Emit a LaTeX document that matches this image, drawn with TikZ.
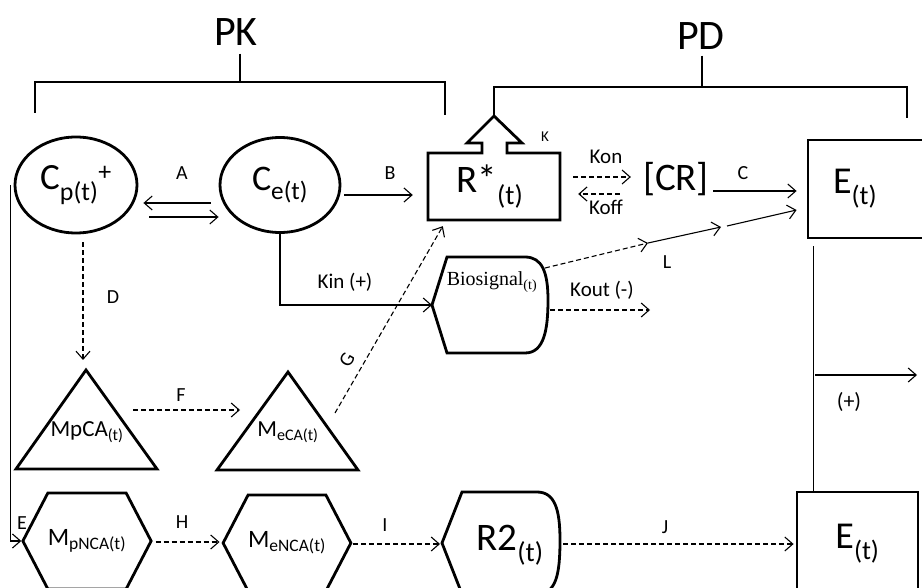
\documentclass[tikz,border=0pt]{standalone}
\usepackage{fontspec}
\setmainfont{Carlito}
\newfontfamily\timesf{Liberation Serif}
\usetikzlibrary{shapes.geometric,shapes.symbols,arrows.meta,calc}
\tikzset{
  shp/.style={line width=2.8pt, line join=miter},
  conn/.style={line width=1.1pt},
  arr/.style={conn, -{Straight Barb[length=8pt,width=14pt,line width=1.1pt]}},
  dsh/.style={dash pattern=on 5pt off 3pt},
  brk/.style={line width=1.4pt},
  flbl/.style={font=\fontsize{20}{24}\selectfont, inner sep=0pt},
  fk/.style={font=\fontsize{21}{25}\selectfont, inner sep=0pt},
  fbig/.style={font=\fontsize{39}{46}\selectfont, inner sep=0pt},
  fpk/.style={font=\fontsize{42}{50}\selectfont, inner sep=0pt},
  fmid/.style={font=\fontsize{23}{28}\selectfont, inner sep=0pt},
  fhex/.style={font=\fontsize{25}{30}\selectfont, inner sep=0pt},
  hexa/.style={shp, draw, signal, signal to=west and east, signal pointer angle=125,
               minimum width=119pt, minimum height=96pt},
}
\begin{document}
\begin{tikzpicture}[x=1pt,y=-1pt]
\clip (0,0) rectangle (922,588);
\fill[white] (0,0) rectangle (922,588);

% headers and brackets
\node[fpk] (PK) at (236,32) {PK};
\node[fpk] (PD) at (701,36) {PD};
\coordinate (pkm) at (240,82);
\coordinate (pdm) at (702,87);
\draw[brk] (35,113) -- (35,82) -- (445,82) -- (445,115);
\draw[brk, shorten <=8pt] (PK.south -| pkm) -- (pkm);

% PK compartments
\node[shp, draw, ellipse, minimum width=122pt, minimum height=96pt, fbig,
      font=\fontsize{37}{44}\selectfont] (Cp) at (76,185) {C\textsubscript{p(t)}\textsuperscript{+}};
\node[shp, draw, ellipse, minimum width=120pt, minimum height=95pt, fbig,
      font=\fontsize{36}{43}\selectfont] (Ce) at (280,185) {C\textsubscript{e(t)}};

% receptor box with arrow
\draw[shp] (428,153) -- (482,153) -- (482,143) -- (467,143) -- (494,116) -- (522,143)
  -- (507,143) -- (507,153) -- (560,153) -- (560,220) -- (428,220) -- cycle;
\node[fbig, minimum width=132pt, minimum height=67pt] (R) at (490,186.5) {R*\textsubscript{(t)}};
\coordinate (Rtip) at (494,116);
\draw[brk] (Rtip) |- (907,87) -- (907,118);
\draw[brk, shorten <=6pt] (PD.south -| pdm) -- (pdm);
\node[font=\fontsize{15}{18}\selectfont, inner sep=0pt] (lK) at (545,137) {K};

% complex and effect
\node[fbig] (CR) at (676,179) {[CR]};
\node[shp, draw, rectangle, fbig, font=\fontsize{38}{45}\selectfont, minimum width=127pt, minimum height=98pt, text width=77pt,
      inner xsep=25pt, align=left] (E1) at (871.5,189) {E\textsubscript{(t)}};
\node[shp, draw, rectangle, fbig, font=\fontsize{38}{45}\selectfont, minimum width=121pt, minimum height=104pt] (E2) at (857.5,544) {E\textsubscript{(t)}};

% Biosignal
\draw[shp] (432,305) -- (447,257) -- (525,257) .. controls (542,257) and (548,272) .. (548,300)
  .. controls (548,330) and (544,353) .. (525,353) -- (447,353) -- cycle;
\coordinate (biotip) at (432,305);
\coordinate (bioTR) at (545,268);
\coordinate (bioR) at (550,310);
\node[font=\timesf\fontsize{20}{24}\selectfont, inner sep=0pt] (biotext) at (492,282) {Biosignal\textsubscript{(t)}};

% R2
\draw[shp] (442,543) -- (462,492) -- (537,492) .. controls (555,492) and (560,510) .. (560,540)
  .. controls (560,575) and (556,594) .. (537,594) -- (462,594) -- cycle;
\coordinate (r2tip) at (442,543);
\coordinate (r2R) at (563,544);
\node[fbig] (r2text) at (510,545) {R2\textsubscript{(t)}};

% metabolites (triangles)
\draw[shp] (86,370) -- (157,469) -- (16,469) -- cycle;
\draw[shp] (288,372) -- (358,470) -- (217,470) -- cycle;
\coordinate (mpcaTop) at (86,370);
\coordinate (mecaTop) at (288,372);
\node[fmid] (mpca) at (87,432) {MpCA\textsubscript{(t)}};
\node[fmid] (meca) at (288,432) {M\textsubscript{eCA(t)}};

% metabolites (hexagons)
\node[hexa, fhex] (mpnca) at (87,541) {M\textsubscript{pNCA(t)}};
\node[hexa, fhex] (menca) at (287,543) {M\textsubscript{eNCA(t)}};

% connectors
\draw[arr] ($(Ce.west)+(-8,18)$) -- ($(Cp.east)+(5,18)$);
\draw[arr] ($(Cp.east)+(11,32)$) -- ($(Ce.west)+(0,32)$);
\node[flbl] (lA) at (182,173) {A};
\draw[arr] ($(Ce.east)+(3,10)$) -- ($(R.west)+(-11,8.5)$);
\node[flbl] (lB) at (390,173) {B};

\draw[arr, dsh] ($(R.east)+(17,-9.5)$) -- ($(CR.west)+(-12,-2)$);
\draw[arr, dsh] ($(CR.west)+(-23,15)$) -- ($(R.east)+(22,7.5)$);
\node[fk] (lKon) at (606,157) {Kon};
\node[fk] (lKoff) at (606,207) {Koff};

\draw[arr] ($(CR.east)+(4,12)$) -- ($(E1.west)+(-10,2)$);
\node[flbl] (lC) at (743,173) {C};

\coordinate (L1) at (648,243);
\coordinate (L2) at (721,227);
\draw[arr, dsh] (bioTR) -- (L1);
\draw[arr] (L1) -- (L2);
\draw[arr] ($(L2)+(6,-1)$) -- ($(E1.west)+(-10,21)$);
\node[flbl] (lL) at (667,262) {L};

\draw[arr] (Ce.south) |- (biotip);
\node[fk] (lKin) at (345,282) {Kin (+)};
\coordinate (koutend) at (650,310);
\draw[arr, dsh] (bioR) -- (koutend);
\node[fk] (lKout) at (602,290) {Kout (-)};

\draw[arr, dsh] ($(mecaTop)+(47,41)$) -- ($(R.south west)+(19,6)$);
\node[flbl, rotate=60] (lG) at (347,360) {G};

\draw[arr, dsh] ($(Cp.south)+(7,8)$) -- ($(mpcaTop)+(-3,-10)$);
\node[flbl] (lD) at (113,297) {D};

\draw[arr, dsh] ($(mpcaTop)+(47,40)$) -- ($(mecaTop)+(-48,38)$);
\node[flbl] (lF) at (181,395) {F};

\draw[arr] ($(Cp.west)+(-3,0)$) |- (mpnca.west);
\node[flbl] (lE) at (22,523) {E};

\draw[arr, dsh] ($(mpnca.east)+(3,1)$) -- ($(menca.west)+(-2,-1)$);
\node[flbl] (lH) at (182,522) {H};
\draw[arr, dsh] ($(menca.east)+(1,1)$) -- ($(r2tip)+(-2,1)$);
\node[flbl] (lI) at (385,525) {I};
\draw[arr, dsh] (r2R) -- ($(E2.west)+(-2,0)$);
\node[flbl] (lJ) at (665,527) {J};

\draw[conn] ($(E1.south west)+(7,7)$) -- ($(E2.north west)+(18,0)$);
\coordinate (br) at (815,375);
\coordinate (brend) at (917,375);
\draw[arr] (br) -- (brend);
\node[flbl, font=\fontsize{22}{26}\selectfont] (lplus) at (849,402) {(+)};
\end{tikzpicture}
\end{document}
